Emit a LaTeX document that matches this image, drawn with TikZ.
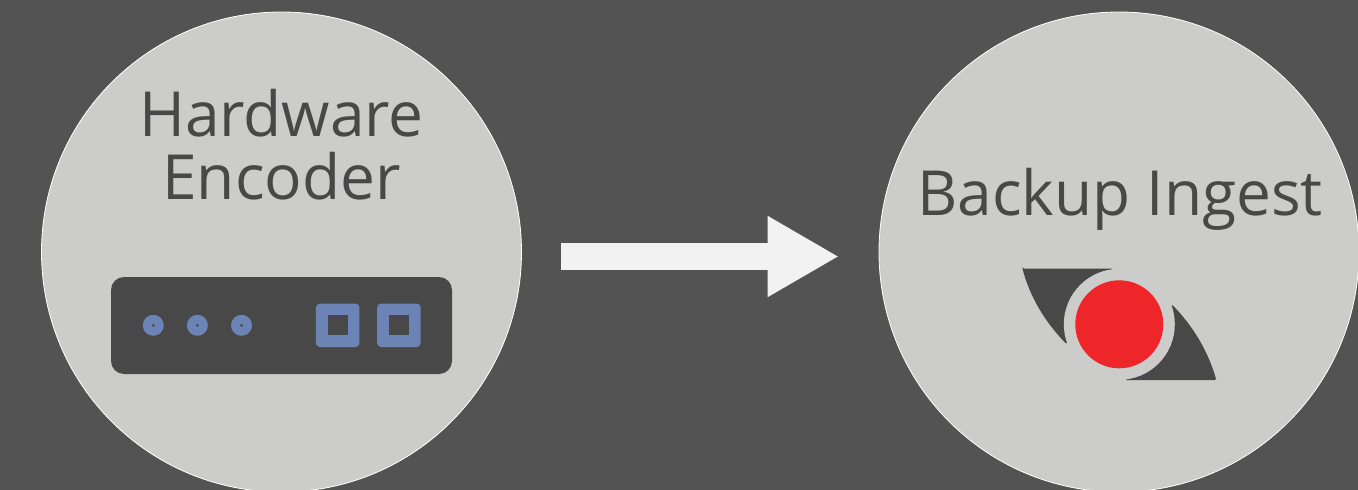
\documentclass[tikz,border=0pt]{standalone}
\usepackage{xcolor}
\usepackage{fontspec}
\setmainfont{Open Sans}
\usetikzlibrary{arrows.meta,positioning}
\definecolor{bggray}{HTML}{535353}
\definecolor{disc}{HTML}{CCCCCA}
\definecolor{dark}{HTML}{484848}
\definecolor{port}{HTML}{6B84B5}
\definecolor{recred}{HTML}{EE2529}
\definecolor{arrowwhite}{HTML}{F2F2F2}

\begin{document}
\begin{tikzpicture}[
    x=1pt, y=-1pt,
    disk/.style={circle, draw=white, line width=0.8pt, fill=disc, minimum size=480pt, inner sep=0pt},
    title/.style={text=dark, align=center, inner sep=0pt, font=\fontsize{62.2}{62.5}\selectfont},
    chassis/.style={fill=dark, rounded corners=13pt, minimum width=341pt, minimum height=97pt, inner sep=0pt},
    jack/.style={circle, fill=port, minimum size=21pt, inner sep=0pt},
    pin/.style={circle, fill=dark, minimum size=3pt, inner sep=0pt},
    socket/.style={fill=port, rounded corners=4pt, minimum size=43.5pt, inner sep=0pt},
    hole/.style={fill=dark, minimum size=20pt, inner sep=0pt},
    arr/.style={-{Triangle[length=71.5pt, width=76pt]}, line width=27pt, draw=arrowwhite}
]
\useasboundingbox[fill=bggray] (0,0) rectangle (1358,490);

% discs
\node[disk] (encoder) at (281.5,252) {};
\node[disk] (ingest) at (1119,252) {};
\node[title] (encodertext) at (281.5,144.5) {Hardware\\Encoder};
\node[title] (ingesttext) at (1120,199.5) {Backup Ingest};

% encoder box
\node[chassis] (box) at (281.5,325.5) {};
\node[jack] (jacka) at (153.3,325.3) {};
\node[jack, right=22.7pt of jacka] (jackb) {};
\node[jack, right=22.7pt of jackb] (jackc) {};
\foreach \j in {jacka,jackb,jackc}
    \node[pin] at (\j) {};
\node[socket] (socketa) at (337.7,325.3) {};
\node[socket, right=17.3pt of socketa] (socketb) {};
\node[hole] at (socketa) {};
\node[hole] at (socketb) {};

% eye logo
\fill[dark, rounded corners=1.5pt] (1022.5,268.7) -- (1113.3,268.7) -- (1066.7,344.3)
    .. controls (1045,322) and (1030,297) .. cycle;
\fill[dark, rounded corners=1.5pt] (1216.3,380) -- (1125.3,380) -- (1171.7,304.3)
    .. controls (1193,326) and (1208,351) .. cycle;
\node[circle, fill=disc, minimum size=111pt, inner sep=0pt] (ring) at (1119.3,324.3) {};
\node[circle, fill=recred, minimum size=88pt, inner sep=0pt] (dot) at (ring) {};

% arrow
\coordinate (arrowstart) at (561,256.5);
\coordinate (arrowtip) at (839,256.5);
\draw[arr] (arrowstart) -- (arrowtip);
\end{tikzpicture}
\end{document}
